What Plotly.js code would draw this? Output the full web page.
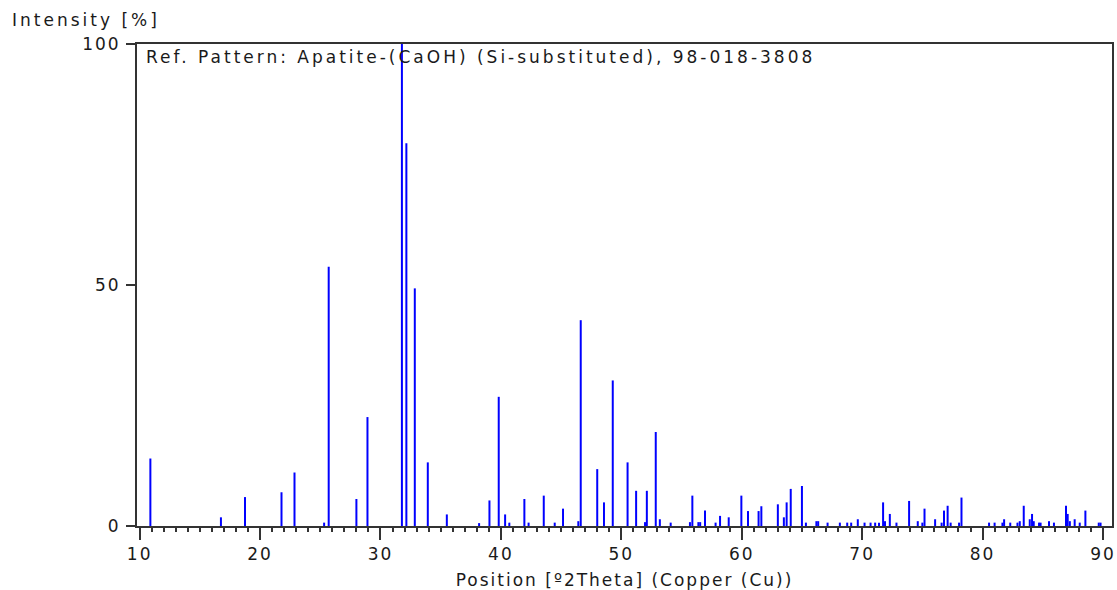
<!DOCTYPE html>
<html>
<head>
<meta charset="utf-8">
<script src="https://cdn.plot.ly/plotly-3.0.1.min.js"></script>
<style>
  html, body { margin: 0; padding: 0; background: #fff; }
  #chart { width: 1117px; height: 590px; }
  #chart svg text { letter-spacing: 2px; }
  #chart svg .gtitle, #chart svg .annotation-text { letter-spacing: 3px; }
</style>
</head>
<body>
<div id="chart"></div>
<script>
// Peak positions [°2Theta] and relative intensities [%]
const positions = [10.89, 16.75, 18.75, 21.78, 22.86, 25.32, 25.70, 28.00, 28.92, 31.78, 32.15, 32.85, 33.93, 35.51,
  38.19, 39.05, 39.82, 40.35, 40.70, 41.95, 42.30, 43.56, 44.47, 45.16, 46.43, 46.63, 48.00, 48.56, 49.29,
  50.52, 51.23, 51.97, 52.12, 52.86, 53.20, 54.10, 55.70, 55.90, 56.40, 56.55, 56.95, 57.83, 58.20, 58.92,
  59.97, 60.52, 61.40, 61.63, 63.00, 63.50, 63.73, 64.07, 65.00, 65.33, 66.20, 66.35, 67.13, 68.15, 68.76,
  69.09, 69.64, 70.20, 70.70, 71.08, 71.40, 71.74, 71.90, 72.30, 72.85, 73.90, 74.62, 75.00, 75.18, 76.06,
  76.60, 76.80, 77.10, 77.35, 78.05, 78.25, 80.54, 81.00, 81.65, 81.79, 82.30, 82.90, 83.09, 83.42, 83.92,
  84.11, 84.25, 84.69, 84.82, 85.52, 85.93, 86.93, 87.07, 87.25, 87.65, 88.07, 88.54, 89.65, 89.80];
const intensities = [14.0, 1.8, 6.0, 7.0, 11.1, 0.7, 53.8, 5.6, 22.6, 100, 79.4, 49.3, 13.2, 2.4,
  0.6, 5.3, 26.8, 2.4, 0.7, 5.6, 0.7, 6.3, 0.7, 3.6, 1.0, 42.7, 11.8, 4.9, 30.2,
  13.2, 7.3, 0.8, 7.3, 19.5, 1.4, 0.7, 0.8, 6.3, 0.8, 0.8, 3.2, 0.7, 2.1, 1.8,
  6.3, 3.1, 3.1, 4.1, 4.5, 1.8, 4.9, 7.7, 8.3, 0.7, 1.0, 1.0, 0.7, 0.7, 0.7,
  0.7, 1.4, 0.7, 0.7, 0.7, 0.7, 4.9, 1.0, 2.5, 0.7, 5.2, 1.0, 0.7, 3.6, 1.4,
  0.7, 3.2, 4.2, 0.7, 0.7, 5.9, 0.7, 0.7, 0.7, 1.4, 0.7, 0.7, 1.0, 4.2, 1.4,
  2.5, 1.0, 0.7, 0.7, 1.0, 0.7, 4.2, 2.5, 1.0, 1.4, 0.7, 3.2, 0.7, 0.7];
const yTickVals = [0, 50, 100];
const yTickText = ["0", "50", "100"];
const xTickVals = [10, 20, 30, 40, 50, 60, 70, 80, 90];
const xTickText = ["10", "20", "30", "40", "50", "60", "70", "80", "90"];

const xs = [], ys = [];
positions.forEach((p, i) => { xs.push(p, p, null); ys.push(0, intensities[i], null); });

const FONT = "DejaVu Sans, Verdana, sans-serif";
const FS = 17;
const trace = {
  x: xs, y: ys, type: "scatter", mode: "lines",
  line: { color: "#0000ff", width: 2 },
  hoverinfo: "skip", showlegend: false
};

const layout = {
  width: 1117, height: 590,
  margin: { l: 137, r: 5, t: 44, b: 64 },
  paper_bgcolor: "#ffffff", plot_bgcolor: "#ffffff",
  font: { family: FONT, size: FS, color: "#1a1a1a" },
  title: {
    text: "Intensity [%]", x: 12 / 1117, xanchor: "left", xref: "container",
    y: 1 - 20 / 590, yanchor: "middle", yref: "container",
    font: { family: FONT, size: FS, color: "#1a1a1a" }
  },
  xaxis: {
    range: [9.78, 90.75], showgrid: false, zeroline: false,
    showline: true, mirror: true, linecolor: "#333333", linewidth: 2,
    ticks: "outside", ticklen: 12, tickwidth: 2, tickcolor: "#333333",
    tickvals: xTickVals, ticktext: xTickText,
    tickfont: { family: FONT, size: FS, color: "#1a1a1a" },
    minor: { dtick: 1, tick0: 0, ticks: "outside", ticklen: 4, tickwidth: 2, tickcolor: "#333333", showgrid: false },
    title: { text: "Position [º2Theta] (Copper (Cu))", standoff: 12, font: { family: FONT, size: FS, color: "#1a1a1a" } },
    fixedrange: true
  },
  yaxis: {
    range: [0, 100], showgrid: false, zeroline: false,
    showline: true, mirror: true, linecolor: "#333333", linewidth: 2,
    ticks: "outside", ticklen: 9, tickwidth: 1.5, tickcolor: "#333333",
    tickvals: yTickVals, ticktext: yTickText,
    tickfont: { family: FONT, size: FS, color: "#1a1a1a" },
    ticklabelstandoff: 2,
    fixedrange: true
  },
  annotations: [{
    text: "Ref. Pattern: Apatite-(CaOH) (Si-substituted), 98-018-3808",
    xref: "paper", yref: "paper", x: 0.006, y: 0.998, xanchor: "left", yanchor: "top",
    xshift: 88,
    showarrow: false, font: { family: FONT, size: FS, color: "#1a1a1a" }
  }]
};

Plotly.newPlot("chart", [trace], layout, { displayModeBar: false, staticPlot: true });
</script>
</body>
</html>
